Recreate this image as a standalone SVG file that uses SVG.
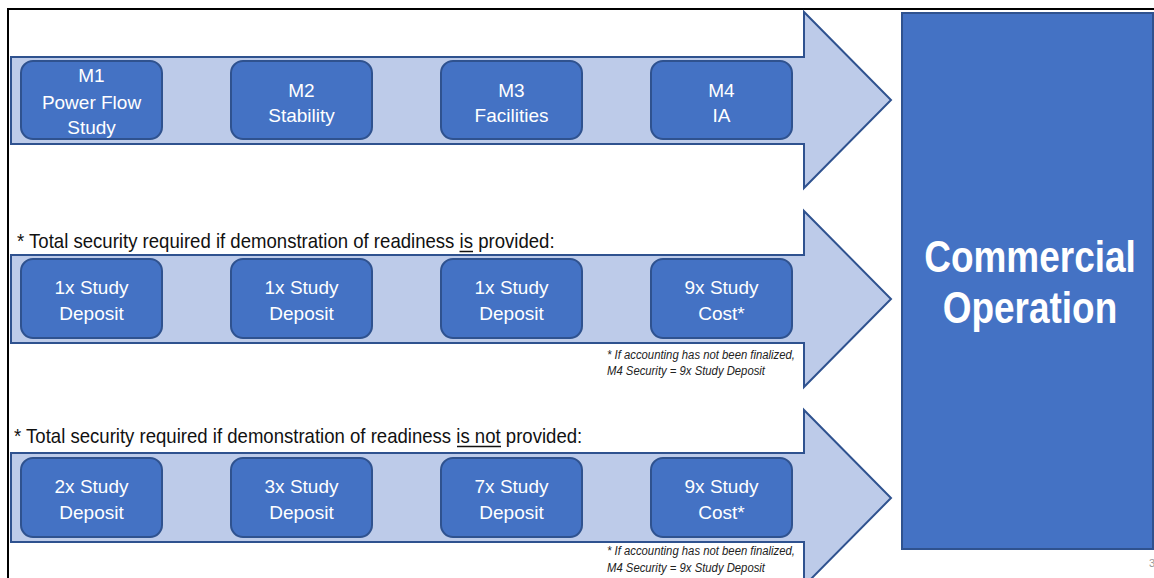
<svg xmlns="http://www.w3.org/2000/svg" width="1154" height="578" viewBox="0 0 1154 578">
<style>
.arrow{fill:#BDCBE9;stroke:#2F528F;stroke-width:2;stroke-linejoin:miter}
.node{fill:#4472C4;stroke:#2F528F;stroke-width:2}
.nt{font-family:"Liberation Sans",Arial,sans-serif;font-size:19px;fill:#FFFFFF;text-anchor:middle}
.hdr{font-family:"Liberation Sans",Arial,sans-serif;font-size:20px;fill:#111111}
.ul{stroke:#111111;stroke-width:1.5}
.note{font-family:"Liberation Sans",Arial,sans-serif;font-size:12px;font-style:italic;fill:#222222}
.big{font-family:"Liberation Sans",Arial,sans-serif;font-size:44px;font-weight:bold;fill:#FFFFFF;text-anchor:middle}
</style>
<rect width="1154" height="578" fill="#FFFFFF"/>
<g id="frame" fill="none" stroke="#000000" stroke-width="2">
<polyline points="8,578 8,9 1154,9"/>
</g>
<g id="connectors">
<polygon id="arrow1" class="arrow" points="11,57 804,57 804,12 891,100 804,188 804,144 11,144"/>
<polygon id="arrow2" class="arrow" points="11,255 804,255 804,211 891,299 804,387 804,343 11,343"/>
<polygon id="arrow3" class="arrow" points="11,453 804,453 804,410 891,498 804,586 804,542 11,542"/>
</g>
<g id="commercial">
<rect x="902" y="13" width="251" height="536" fill="#4472C4" stroke="#2F528F" stroke-width="2"/>
<text class="big" transform="matrix(0.84 0 0 1 1030 272)" x="0" y="0">Commercial</text>
<text class="big" transform="matrix(0.84 0 0 1 1030 323)" x="0" y="0">Operation</text>
</g>
<g id="m1"><rect class="node" x="21" y="61" width="141" height="78" rx="12"/>
<text class="nt" x="91.5" y="82">M1</text><text class="nt" x="91.5" y="109">Power Flow</text><text class="nt" x="91.5" y="134">Study</text></g>
<g id="m2"><rect class="node" x="231" y="61" width="141" height="78" rx="12"/>
<text class="nt" x="301.5" y="97">M2</text><text class="nt" x="301.5" y="122">Stability</text></g>
<g id="m3"><rect class="node" x="441" y="61" width="141" height="78" rx="12"/>
<text class="nt" x="511.5" y="97">M3</text><text class="nt" x="511.5" y="122">Facilities</text></g>
<g id="m4"><rect class="node" x="651" y="61" width="141" height="78" rx="12"/>
<text class="nt" x="721.5" y="97">M4</text><text class="nt" x="721.5" y="122">IA</text></g>
<g id="header2">
<text class="hdr" transform="matrix(0.929 0 0 1 17 248)" x="0" y="0">* Total security required if demonstration of readiness is provided:</text>
<line class="ul" x1="459.5" y1="251.5" x2="473" y2="251.5"/>
</g>
<g id="r2n1"><rect class="node" x="21" y="259" width="141" height="79" rx="12"/>
<text class="nt" x="91.5" y="294">1x Study</text><text class="nt" x="91.5" y="320">Deposit</text></g>
<g id="r2n2"><rect class="node" x="231" y="259" width="141" height="79" rx="12"/>
<text class="nt" x="301.5" y="294">1x Study</text><text class="nt" x="301.5" y="320">Deposit</text></g>
<g id="r2n3"><rect class="node" x="441" y="259" width="141" height="79" rx="12"/>
<text class="nt" x="511.5" y="294">1x Study</text><text class="nt" x="511.5" y="320">Deposit</text></g>
<g id="r2n4"><rect class="node" x="651" y="259" width="141" height="79" rx="12"/>
<text class="nt" x="721.5" y="294">9x Study</text><text class="nt" x="721.5" y="320">Cost*</text></g>
<g id="note2"><text class="note" x="607" y="359" textLength="188" lengthAdjust="spacingAndGlyphs">* If accounting has not been finalized,</text>
<text class="note" x="607" y="375" textLength="158" lengthAdjust="spacingAndGlyphs">M4 Security = 9x Study Deposit</text></g>
<g id="header3">
<text class="hdr" transform="matrix(0.928 0 0 1 14 443)" x="0" y="0">* Total security required if demonstration of readiness is not provided:</text>
<line class="ul" x1="457" y1="446.5" x2="501" y2="446.5"/>
</g>
<g id="r3n1"><rect class="node" x="21" y="458" width="141" height="79" rx="12"/>
<text class="nt" x="91.5" y="493">2x Study</text><text class="nt" x="91.5" y="519">Deposit</text></g>
<g id="r3n2"><rect class="node" x="231" y="458" width="141" height="79" rx="12"/>
<text class="nt" x="301.5" y="493">3x Study</text><text class="nt" x="301.5" y="519">Deposit</text></g>
<g id="r3n3"><rect class="node" x="441" y="458" width="141" height="79" rx="12"/>
<text class="nt" x="511.5" y="493">7x Study</text><text class="nt" x="511.5" y="519">Deposit</text></g>
<g id="r3n4"><rect class="node" x="651" y="458" width="141" height="79" rx="12"/>
<text class="nt" x="721.5" y="493">9x Study</text><text class="nt" x="721.5" y="519">Cost*</text></g>
<g id="note3"><text class="note" x="607" y="555" textLength="188" lengthAdjust="spacingAndGlyphs">* If accounting has not been finalized,</text>
<text class="note" x="607" y="572" textLength="158" lengthAdjust="spacingAndGlyphs">M4 Security = 9x Study Deposit</text></g>
<text x="1149" y="567" font-family="Liberation Sans, Arial, sans-serif" font-size="11" fill="#999999">3</text>
</svg>
